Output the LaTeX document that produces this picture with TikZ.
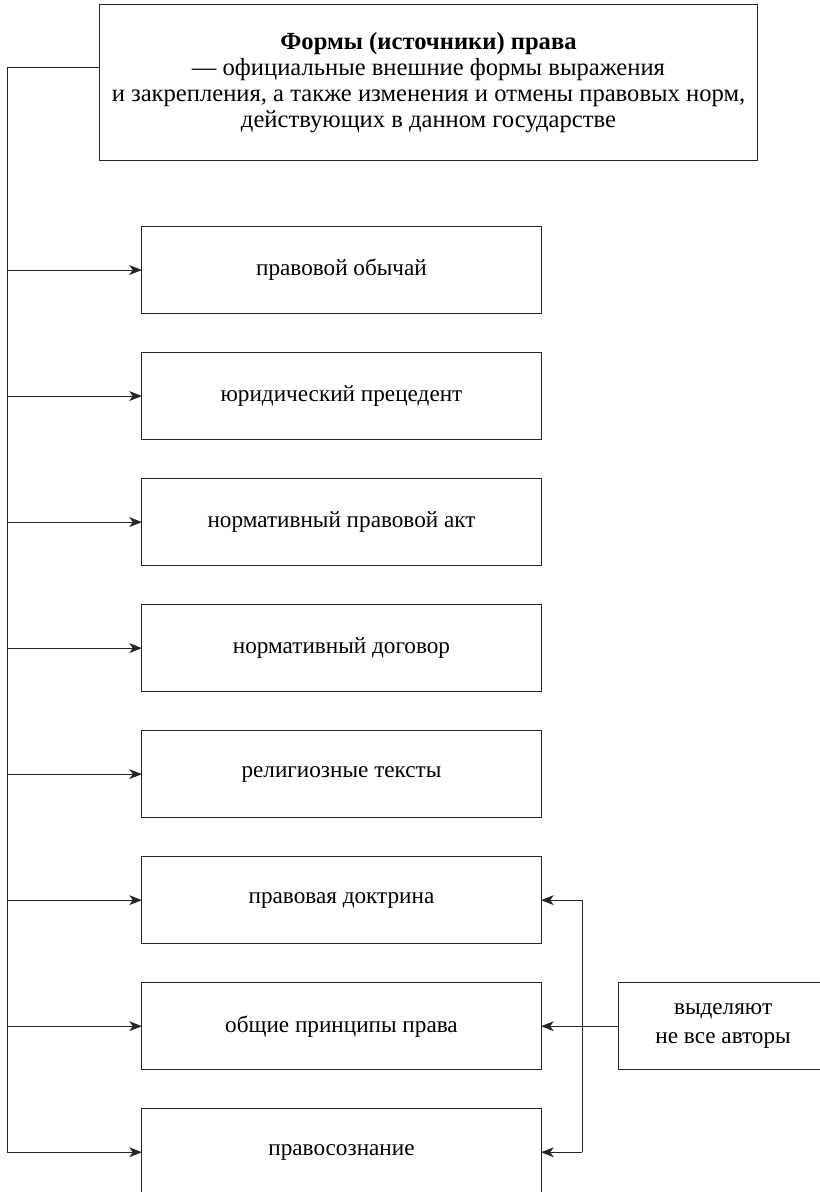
\documentclass[tikz,border=0pt]{standalone}
\usepackage{fontspec}
\setmainfont{Liberation Serif}
\usetikzlibrary{arrows.meta, positioning, calc}

\begin{document}
\begin{tikzpicture}[x=0.025cm, y=-0.025cm,
  font=\fontsize{16.5}{18.5}\selectfont,
  box/.style={draw=black!85, line width=0.7pt, outer sep=0pt, minimum width=9.975cm, minimum height=2.175cm, align=center},
  arr/.style={draw=black!85, line width=0.7pt, -{Stealth[length=9pt, width=7pt, inset=2.5pt]}},
  link/.style={draw=black!85, line width=0.7pt}]
  \useasboundingbox (0,0) rectangle (820,1192);

  % Main box
  \node[box, minimum width=16.425cm, minimum height=3.875cm, font=\fontsize{17.5}{18.5}\selectfont] (forms) at (428.5,82.5)
    {\textbf{Формы (источники) права}\\
     — официальные внешние формы выражения\\
     и закрепления, а также изменения и отмены правовых норм,\\
     действующих в данном государстве};

  % Kinds of sources
  \node[box] (b1) at (341.5,270) {правовой обычай};
  \node[box, below=0.975cm of b1] (b2) {юридический прецедент};
  \node[box, below=0.975cm of b2] (b3) {нормативный правовой акт};
  \node[box, below=0.975cm of b3] (b4) {нормативный договор};
  \node[box, below=0.975cm of b4] (b5) {религиозные тексты};
  \node[box, below=0.975cm of b5] (b6) {правовая доктрина};
  \node[box, below=0.975cm of b6] (b7) {общие принципы права};
  \node[box, below=0.975cm of b7] (b8) {правосознание};

  % Note box
  \node[box, minimum width=5.25cm, right=1.925cm of b7, font=\fontsize{16.5}{20.5}\selectfont] (note) {выделяют\\не все авторы};

  % Left bus
  \coordinate (bus) at (7,0);
  \coordinate (tap) at ($(forms.north west)!0.4!(forms.south west)$);
  \draw[link] (tap) -| (bus |- b8.west);
  \foreach \i in {1,...,8}
    \draw[arr] (bus |- b\i.west) -- (b\i.west);

  % Right bracket
  \coordinate (brk) at (582,0);
  \draw[link] (brk |- b6.east) -- (brk |- b8.east);
  \foreach \i in {6,8}
    \draw[arr] (brk |- b\i.east) -- (b\i.east);
  \draw[arr] (note.west) -- (b7.east);
\end{tikzpicture}
\end{document}
